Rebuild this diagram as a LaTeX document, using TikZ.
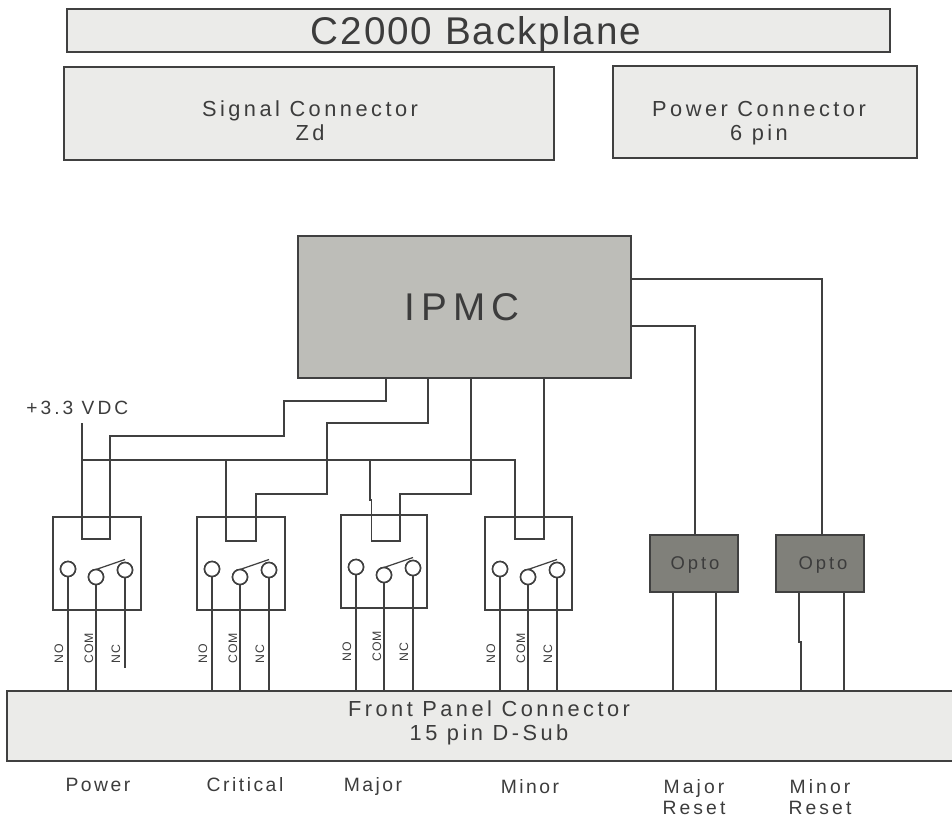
\documentclass[tikz,border=0pt]{standalone}
\usepackage{fontspec}
\usepackage{xcolor}
\usepackage{tikz}
\usetikzlibrary{calc}
\setmainfont{Liberation Sans}
\newfontfamily\widefont[LetterSpace=16]{Liberation Sans}
\newfontfamily\namefont[LetterSpace=13]{Liberation Sans}
\newfontfamily\pinfont[LetterSpace=8]{Liberation Sans}
\newfontfamily\titlefont[LetterSpace=5]{Liberation Sans}
\definecolor{wire}{HTML}{404040}
\definecolor{ink}{HTML}{3C3C3C}
\definecolor{panel}{HTML}{EBEBE9}
\definecolor{ipmcgray}{HTML}{BDBDB8}
\definecolor{optogray}{HTML}{80807A}
\def\px{0.02cm}
\tikzset{
  line/.style={draw=wire, line width=1pt},
  block/.style={draw=wire, line width=1pt, fill=panel, anchor=north west, inner sep=0pt, outer sep=0pt},
  swbox/.style={draw=wire, line width=1pt, anchor=north west, inner sep=0pt, outer sep=0pt},
  contact/.style={circle, draw=wire, line width=0.9pt, fill=white, inner sep=0pt, outer sep=0pt, minimum size=15*\px},
  lbl/.style={text=ink, font=\widefont\fontsize{12.4}{13.7}\selectfont, align=center, inner sep=0pt},
  small/.style={text=ink, font=\widefont\fontsize{11}{12.3}\selectfont, align=center, inner sep=0pt},
  alarm/.style={text=ink, font=\namefont\fontsize{11}{12.3}\selectfont, anchor=base, inner sep=0pt},
  pinlbl/.style={text=ink, font=\pinfont\fontsize{7}{8}\selectfont, rotate=90, anchor=west, inner sep=0pt}
}
\begin{document}
\begin{tikzpicture}[x=\px, y=-\px]
  \useasboundingbox (0,0) rectangle (952,817);

  % top blocks
  \node[block, minimum width=823*\px, minimum height=43*\px] (backplane) at (67,9) {};
  \node[block, minimum width=490*\px, minimum height=93*\px] (signal) at (64,67) {};
  \node[block, minimum width=304*\px, minimum height=92*\px] (power) at (613,66) {};
  \node[text=ink, font=\titlefont\fontsize{22}{24}\selectfont, anchor=base, inner sep=0pt] (backtxt) at (476,45) {C2000 Backplane};
  \node[lbl] (signaltxt) at (310,121) {Signal Connector\\Zd};
  \node[lbl] (powertxt) at (759,123) {Power Connector\\6 pin};

  \node[block, fill=ipmcgray, minimum width=333*\px, minimum height=142*\px] (ipmc) at (298,236) {};
  \node[text=ink, font=\widefont\fontsize{22}{24}\selectfont, anchor=base, inner sep=0pt] (ipmctxt) at (462,320) {IPMC};
  \node[block, minimum width=960*\px, minimum height=70*\px] (front) at (7,691) {};
  \node[lbl] (fronttxt) at (489,723) {Front Panel Connector\\15 pin D-Sub};

  % switches
  \foreach \n/\x/\y/\w in {1/53/517/88, 2/197/517/88, 3/341/515/86, 4/485/517/87}{
    \node[swbox, minimum width=\w*\px, minimum height=93*\px] (sw\n) at (\x,\y) {};
    \node[contact] (no\n) at (\x+15,\y+52) {};
    \node[contact] (com\n) at (\x+43,\y+60) {};
    \node[contact] (nc\n) at (\x+72,\y+53) {};
    \draw[line, line width=0.7pt] (com\n.north) -- ($(nc\n.north)+(0,-3)$);
    \draw[line] (no\n) -- (no\n |- front.north);
    \draw[line] (com\n) -- (com\n |- front.north);
    \node[pinlbl] (nolbl\n) at (\x+6,\y+147) {NO};
    \node[pinlbl] (comlbl\n) at (\x+36,\y+147) {COM};
    \node[pinlbl] (nclbl\n) at (\x+63,\y+147) {NC};
  }
  \coordinate (ncend) at (125,668);
  \draw[line] (nc1) -- (ncend);
  \foreach \n in {2,3,4}{
    \draw[line] (nc\n) -- (nc\n |- front.north);
  }
  % redraw contacts over their wires
  \foreach \n in {1,2,3,4}{
    \node[contact] at (no\n) {};
    \node[contact] at (com\n) {};
    \node[contact] at (nc\n) {};
  }

  % supply bus
  \node[text=ink, font=\widefont\fontsize{10.9}{12}\selectfont, anchor=base west, inner sep=0pt] (vdc) at (26,414) {+3.3 VDC};
  \coordinate (vtop) at (82,423);
  \coordinate (busl) at (82,460);
  \coordinate (busr) at (515,460);
  \draw[line] (vtop) -- (82,539) -- (110,539) -- (110,436) -- (284,436) -- (284,401) -- (386,401) -- (386,378);
  \draw[line] (busl) -- (busr) -- (515,539) -- (544,539) -- (544,378);
  \draw[line] (226,460) -- (226,541) -- (256,541) -- (256,494) -- (327,494) -- (327,423) -- (428,423) -- (428,378);
  \draw[line] (370,460) -- (370,500) -- (371.5,500) -- (371.5,541) -- (400,541) -- (400,494) -- (471,494) -- (471,378);

  % optos
  \node[block, fill=optogray, minimum width=88*\px, minimum height=57*\px] (opto1) at (650,535) {};
  \node[block, fill=optogray, minimum width=88*\px, minimum height=57*\px] (opto2) at (776,535) {};
  \node[text=ink, font=\widefont\fontsize{10.5}{12}\selectfont, anchor=base, inner sep=0pt] (optotxt1) at (695,569) {Opto};
  \node[text=ink, font=\widefont\fontsize{10.5}{12}\selectfont, anchor=base, inner sep=0pt] (optotxt2) at (823,569) {Opto};
  \draw[line] (631,279) -- (822,279) -- (822,535);
  \draw[line] (631,326) -- (695,326) -- (695,535);
  \draw[line] (673,592) -- (673,691);
  \draw[line] (716,592) -- (716,691);
  \draw[line] (799,592) -- (799,642) -- (801,642) -- (801,691);
  \draw[line] (844,592) -- (844,691);

  % alarm names
  \node[alarm] (lpower) at (98,791) {Power};
  \node[alarm] (lcritical) at (245,791) {Critical};
  \node[alarm] (lmajor) at (373,791) {Major};
  \node[alarm] (lminor) at (530,793) {Minor};
  \node[small] (lmajorr) at (694,797) {Major\\Reset};
  \node[small] (lminorr) at (820,797) {Minor\\Reset};
\end{tikzpicture}
\end{document}
